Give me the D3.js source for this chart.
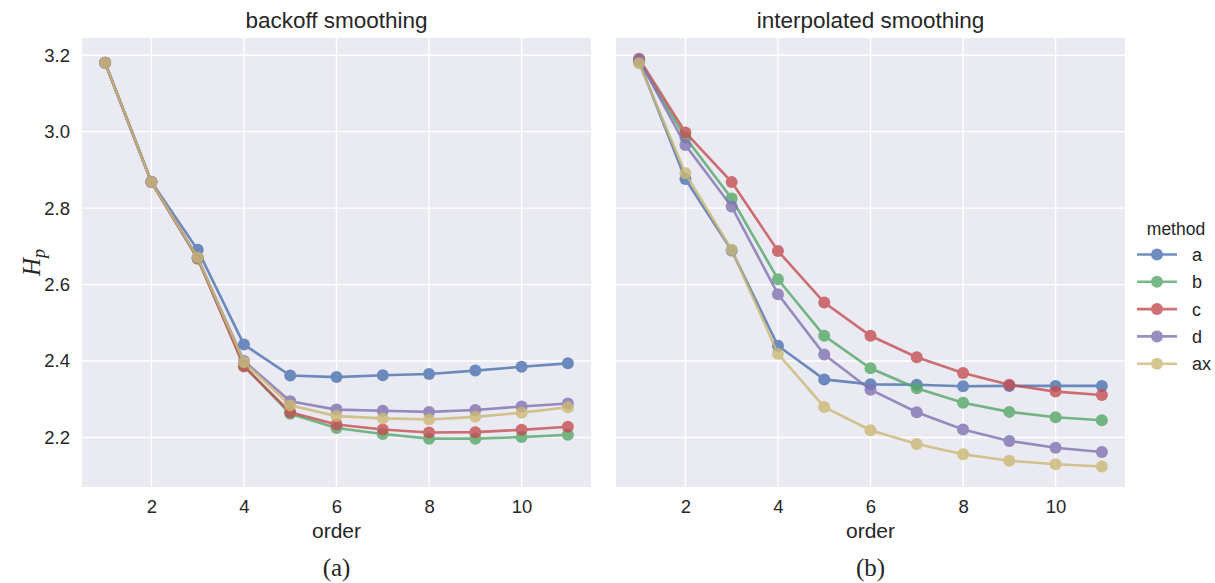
<!DOCTYPE html>
<html>
<head>
<meta charset="utf-8">
<script src="https://cdn.jsdelivr.net/npm/d3@7"></script>
<style>
  body { margin: 0; background: #fff; }
  svg text { font-family: "Liberation Sans", Arial, sans-serif; fill: #262626; }
</style>
</head>
<body>
<svg id="chart" width="1215" height="583"></svg>
<script>
// data
const orders = [1, 2, 3, 4, 5, 6, 7, 8, 9, 10, 11];
const methods = ["a", "b", "c", "d", "ax"];
const colors = ["#4C72B0", "#55A868", "#C44E52", "#8172B2", "#CCB974"];

// backoff smoothing
const backoffA  = [3.180, 2.869, 2.691, 2.443, 2.362, 2.358, 2.363, 2.366, 2.375, 2.385, 2.394];
const backoffB  = [3.180, 2.868, 2.668, 2.388, 2.262, 2.225, 2.209, 2.197, 2.197, 2.201, 2.207];
const backoffC  = [3.180, 2.868, 2.668, 2.386, 2.266, 2.234, 2.221, 2.213, 2.214, 2.220, 2.228];
const backoffD  = [3.180, 2.868, 2.670, 2.400, 2.295, 2.273, 2.270, 2.267, 2.272, 2.281, 2.289];
const backoffAX = [3.180, 2.868, 2.671, 2.397, 2.284, 2.256, 2.250, 2.247, 2.254, 2.265, 2.279];

// interpolated smoothing
const interpA  = [3.183, 2.876, 2.689, 2.440, 2.352, 2.339, 2.338, 2.334, 2.335, 2.335, 2.335];
const interpB  = [3.185, 2.985, 2.825, 2.614, 2.466, 2.381, 2.329, 2.291, 2.267, 2.253, 2.245];
const interpC  = [3.191, 2.998, 2.868, 2.688, 2.553, 2.466, 2.410, 2.369, 2.338, 2.320, 2.311];
const interpD  = [3.188, 2.965, 2.804, 2.575, 2.417, 2.325, 2.266, 2.221, 2.191, 2.173, 2.162];
const interpAX = [3.179, 2.891, 2.691, 2.419, 2.280, 2.219, 2.183, 2.156, 2.139, 2.130, 2.124];

const xTicks = [2, 4, 6, 8, 10];
const yTicks = [2.2, 2.4, 2.6, 2.8, 3.0, 3.2];

const panels = [
  { title: "backoff smoothing", caption: "(a)", left: 82, series: [backoffA, backoffB, backoffC, backoffD, backoffAX] },
  { title: "interpolated smoothing", caption: "(b)", left: 616, series: [interpA, interpB, interpC, interpD, interpAX] }
];

const svg = d3.select("#chart");
const panelW = 509, plotTop = 38, plotBottom = 487;
const tickFont = 18.5;
const dotR = 6;

const y = d3.scaleLinear().domain([2.0705, 3.245]).range([plotBottom, plotTop]);

panels.forEach((p, pi) => {
  const x = d3.scaleLinear().domain([0.5, 11.5]).range([p.left, p.left + panelW]);
  const g = svg.append("g");

  g.append("rect")
    .attr("x", p.left).attr("y", plotTop)
    .attr("width", panelW).attr("height", plotBottom - plotTop)
    .attr("fill", "#EAEAF2");

  // grid
  g.selectAll(".vg").data(xTicks).join("line")
    .attr("x1", d => x(d)).attr("x2", d => x(d))
    .attr("y1", plotTop).attr("y2", plotBottom)
    .attr("stroke", "#fff").attr("stroke-width", 1.4);
  g.selectAll(".hg").data(yTicks).join("line")
    .attr("x1", p.left).attr("x2", p.left + panelW)
    .attr("y1", d => y(d)).attr("y2", d => y(d))
    .attr("stroke", "#fff").attr("stroke-width", 1.4);

  // x axis
  const xa = g.append("g").attr("transform", `translate(0,${plotBottom})`)
    .call(d3.axisBottom(x).tickValues(xTicks).tickSize(0).tickPadding(13).tickFormat(d3.format("d")));
  xa.select(".domain").remove();
  xa.selectAll("text").attr("font-size", tickFont).attr("font-family", "Liberation Sans, Arial, sans-serif").attr("fill", "#262626");

  g.append("text").attr("x", x(6)).attr("y", 537.5)
    .attr("text-anchor", "middle").attr("font-size", 21).text("order");

  g.append("text").attr("x", x(6)).attr("y", 576)
    .attr("text-anchor", "middle").attr("font-size", 25)
    .style("font-family", "'Liberation Serif', 'Times New Roman', serif")
    .text(p.caption);

  g.append("text").attr("x", x(6)).attr("y", 28)
    .attr("text-anchor", "middle").attr("font-size", 22.5).text(p.title);

  if (pi === 0) {
    const ya = g.append("g").attr("transform", `translate(${p.left},0)`)
      .call(d3.axisLeft(y).tickValues(yTicks).tickSize(0).tickPadding(12).tickFormat(d3.format(".1f")));
    ya.select(".domain").remove();
    ya.selectAll("text").attr("font-size", tickFont).attr("font-family", "Liberation Sans, Arial, sans-serif").attr("fill", "#262626");

    const yl = g.append("text")
      .attr("transform", `translate(40,${(plotTop + plotBottom) / 2}) rotate(-90)`)
      .attr("text-anchor", "middle")
      .style("font-family", "'Liberation Serif', 'Times New Roman', serif")
      .style("font-style", "italic")
      .attr("font-size", 25);
    yl.append("tspan").text("H");
    yl.append("tspan").attr("font-size", 18).attr("dy", 5).text("p");
  }

  const line = d3.line().x((d, i) => x(orders[i])).y(d => y(d));

  p.series.forEach((vals, si) => {
    const sg = g.append("g").attr("opacity", 0.8);
    sg.append("path").datum(vals)
      .attr("d", line)
      .attr("fill", "none")
      .attr("stroke", colors[si])
      .attr("stroke-width", 2.6);
    sg.selectAll("circle").data(vals).join("circle")
      .attr("cx", (d, i) => x(orders[i]))
      .attr("cy", d => y(d))
      .attr("r", dotR)
      .attr("fill", colors[si]);
  });
});

// legend
const lg = svg.append("g");
lg.append("text").attr("x", 1176).attr("y", 235)
  .attr("text-anchor", "middle").attr("font-size", 17.5).text("method");
methods.forEach((m, i) => {
  const yy = 254.5 + i * 27.3;
  const eg = lg.append("g").attr("opacity", 0.8);
  eg.append("line").attr("x1", 1137).attr("x2", 1177).attr("y1", yy).attr("y2", yy)
    .attr("stroke", colors[i]).attr("stroke-width", 2.6);
  eg.append("circle").attr("cx", 1157).attr("cy", yy).attr("r", dotR).attr("fill", colors[i]);
  lg.append("text").attr("x", 1192).attr("y", yy + 6.5)
    .attr("font-size", 18).text(m);
});
</script>
</body>
</html>
